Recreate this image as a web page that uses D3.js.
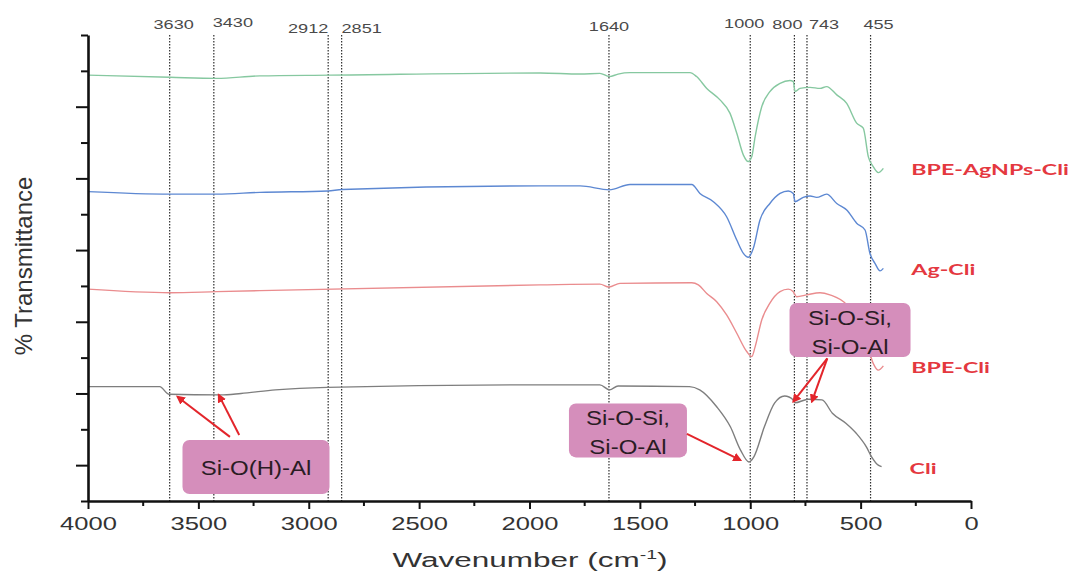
<!DOCTYPE html>
<html>
<head>
<meta charset="utf-8">
<script src="https://cdn.jsdelivr.net/npm/d3@7"></script>
<style>
  body { margin: 0; background: #fff; }
  text { font-family: "Liberation Sans", Arial, sans-serif; }
</style>
</head>
<body>
<svg id="chart" width="1073" height="573"></svg>
<script>
// spectra (wavenumber in cm-1, offset transmittance)
var seriesNames = ['BPE-AgNPs-Cli', 'Ag-Cli', 'BPE-Cli', 'Cli'];

var bpeAgWn = [4000,3629,3417,3221,2904,1952,1771,1681,1638,1599,1545,1273,1243,1197,1137,1092,1061,1031,1009,993,978,948,911,865,820,805,797,775,729,684,654,608,563,518,488,465,443,420,397];
var bpeAgT  = [118.8,118.2,117.9,118.6,118.8,119.4,119.1,119.3,118.4,119.1,119.5,119.5,118.4,115.1,111.9,108.2,102.6,96.5,94.7,96.1,101.6,110.0,114.2,116.5,117.3,117.0,114.2,115.1,115.4,115.1,115.6,113.3,110.9,105.4,104.0,96.0,93.3,91.6,92.8];

var agWn = [4000,3629,3417,3221,2913,2849,1952,1771,1638,1545,1265,1228,1167,1107,1061,1031,1009,986,956,911,865,828,805,797,760,729,699,654,608,563,518,480,458,435,412,397];
var agT  = [86.3,85.6,85.6,86.1,86.5,86.9,87.9,87.9,86.8,88.3,88.3,85.8,83.5,79.3,72.8,69.1,68.0,70.5,78.4,83.0,85.8,86.5,85.8,83.5,84.7,85.1,84.7,85.6,83.0,81.2,77.5,75.6,69.1,66.3,64.2,64.9];

var bpeWn = [4000,3629,3417,3221,1952,1681,1640,1590,1265,1235,1197,1152,1107,1061,1016,993,978,948,911,865,828,805,790,744,684,639,563,518,476,443,420,397];
var bpeT  = [59.1,58.1,58.4,58.7,60.3,60.5,59.7,60.7,60.9,60.3,57.9,55.6,51.9,46.8,41.7,40.3,43.0,50.5,55.2,58.4,59.1,58.4,57.0,57.5,58.1,57.5,54.7,50.5,44.9,38.4,36.5,37.7];

var cliWn = [4000,3675,3634,3400,3307,3151,2917,1952,1681,1637,1599,1275,1229,1152,1090,1044,1006,983,936,890,844,805,798,736,675,628,567,520,474,451,420,405];
var cliT  = [31.9,31.9,29.8,29.6,30.0,31.0,31.7,32.4,32.4,31.0,32.1,31.9,31.0,26.3,20.7,14.2,10.9,12.4,20.7,27.3,29.3,28.2,27.4,28.4,28.2,24.5,21.7,18.9,15.1,12.4,10.0,9.6];

var peakWn = [3630, 3430, 2912, 2851, 1640, 1000, 800, 743, 455];
var xTicks = [4000, 3500, 3000, 2500, 2000, 1500, 1000, 500, 0];
var xMinor = [3750, 3250, 2750, 2250, 1750, 1250, 750, 250];
var yTicks = d3.range(0, 131, 10);

// band assignments: box centre, arrow tails and arrow heads (wavenumber, T)
var annoText = [['Si-O(H)-Al'], ['Si-O-Si,', 'Si-O-Al'], ['Si-O-Si,', 'Si-O-Al']];
var annoAt   = [[3239, 9.5], [1554, 19.7], [548, 47.7]];
var arrowFrom = [[3357, 17.9], [3315, 18.4], [1287, 18.7], [651, 39.8], [651, 39.8]];
var arrowTo   = [[3595, 29.1], [3408, 29.6], [1044, 11.4], [805, 27.7], [721, 27.7]];

(function(){
    var svg = d3.select('#chart');
    var x = d3.scaleLinear().domain([4000, 0]).range([88, 971]);
    var y = d3.scaleLinear().domain([0, 130]).range([501, 35]);

    var series = [
        {name: seriesNames[0], wn: bpeAgWn, t: bpeAgT, color: '#86c8a0'},
        {name: seriesNames[1], wn: agWn,    t: agT,    color: '#5d88d2'},
        {name: seriesNames[2], wn: bpeWn,   t: bpeT,   color: '#ea8c8e'},
        {name: seriesNames[3], wn: cliWn,   t: cliT,   color: '#7e7e7e'}
    ];

    var defs = svg.append('defs');
    defs.append('marker')
        .attr('id', 'arrowHead')
        .attr('viewBox', '0 0 10 10')
        .attr('refX', 8).attr('refY', 5)
        .attr('markerWidth', 4.5).attr('markerHeight', 4.5)
        .attr('orient', 'auto')
        .append('path')
        .attr('d', 'M0,0L10,5L0,10z')
        .attr('fill', '#e3252b');

    // dotted peak markers -----------------
    svg.append('g').selectAll('line')
        .data(peakWn).enter().append('line')
        .attr('x1', function(d){ return x(d) })
        .attr('x2', function(d){ return x(d) })
        .attr('y1', y(130)).attr('y2', y(0))
        .style('stroke', '#2e2e2e')
        .style('stroke-width', 1.2)
        .style('stroke-dasharray', '1.5,1.5');

    // labels are not centred on their lines in the figure
    var peakDx = [4, 19, -20, 20, 0, -6, -7, 17, 8];
    var peakY  = [29, 27, 33, 33, 31, 28, 29, 29, 29];
    svg.append('g').selectAll('text')
        .data(peakWn).enter().append('text')
        .attr('transform', function(d, i){
            return 'translate(' + (x(d) + peakDx[i]) + ',' + peakY[i] + ') scale(1.45,1)';
        })
        .attr('text-anchor', 'middle')
        .style('font-size', '12.5px')
        .style('fill', '#4a4a4a')
        .text(function(d){ return d });

    // spectra -----------------
    var line = d3.line()
        .curve(d3.curveMonotoneX)
        .x(function(d){ return x(d[0]) })
        .y(function(d){ return y(d[1]) });

    series.forEach(function(s){
        var pts = s.wn.map(function(w, i){ return [w, s.t[i]] });
        svg.append('path')
            .datum(pts)
            .attr('d', line)
            .style('fill', 'none')
            .style('stroke', s.color)
            .style('stroke-width', 1.4);

        var last = pts[pts.length - 1];
        svg.append('text')
            .attr('transform', 'translate(' + (x(last[0]) + 28) + ',' + (y(last[1]) + 7) + ') scale(1.45,1)')
            .style('font-family', 'Lato, "Open Sans", sans-serif')
            .style('font-weight', 'bold')
            .style('font-size', '16px')
            .style('fill', '#e4383f')
            .text(s.name);
    });

    // axes -----------------
    var xAxis = svg.append('g')
        .attr('transform', 'translate(0,' + y(0) + ')')
        .call(d3.axisBottom(x).tickValues(xTicks).tickFormat(d3.format('d'))
            .tickSize(8).tickPadding(8).tickSizeOuter(0));
    xAxis.selectAll('text')
        .attr('transform', 'scale(1.42,1)')
        .style('font-size', '18px')
        .style('fill', '#333');
    xAxis.selectAll('.minor')
        .data(xMinor).enter().append('line')
        .attr('class', 'minor')
        .attr('x1', function(d){ return x(d) })
        .attr('x2', function(d){ return x(d) })
        .attr('y1', 0).attr('y2', 5);

    var yAxis = svg.append('g')
        .attr('transform', 'translate(' + x(4000) + ',0)')
        .call(d3.axisLeft(y).tickValues(yTicks).tickFormat('').tickSizeOuter(0));
    yAxis.selectAll('.tick line')
        .attr('x2', function(d){ return ((d / 10) % 2 === 1 && d !== 130) ? -12 : -7 });

    svg.selectAll('.domain').style('stroke', '#111').style('stroke-width', 2.6);
    svg.selectAll('.tick line, .minor').style('stroke', '#111').style('stroke-width', 2);

    svg.append('text')
        .attr('transform', 'translate(530,567) scale(1.5,1)')
        .attr('text-anchor', 'middle')
        .style('font-size', '21px')
        .style('fill', '#333')
        .call(function(t){
            t.append('tspan').text('Wavenumber (cm');
            t.append('tspan').attr('dy', -8).style('font-size', '13px').text('-1');
            t.append('tspan').attr('dy', 8).text(')');
        });

    svg.append('text')
        .attr('transform', 'translate(32,266) rotate(-90)')
        .attr('text-anchor', 'middle')
        .style('font-size', '24px')
        .style('fill', '#333')
        .text('% Transmittance');

    // band boxes + arrows -----------------
    var boxW = [147, 118, 121], boxH = 54;
    var anno = svg.append('g').selectAll('g')
        .data(annoText).enter().append('g')
        .attr('transform', function(d, i){
            return 'translate(' + x(annoAt[i][0]) + ',' + y(annoAt[i][1]) + ')';
        });
    anno.append('rect')
        .attr('x', function(d, i){ return -boxW[i] / 2 })
        .attr('y', -boxH / 2)
        .attr('width', function(d, i){ return boxW[i] })
        .attr('height', boxH)
        .attr('rx', 7)
        .style('fill', '#d58ebb');
    anno.each(function(lines){
        var g = d3.select(this);
        var base = lines.length === 1 ? [8] : [-5, 23.5];
        lines.forEach(function(l, j){
            g.append('text')
                .attr('transform', 'translate(0,' + base[j] + ') scale(1.2,1)')
                .attr('text-anchor', 'middle')
                .style('font-size', '20px')
                .style('fill', '#2a1c24')
                .text(l);
        });
    });

    svg.append('g').selectAll('line')
        .data(arrowFrom).enter().append('line')
        .attr('x1', function(d){ return x(d[0]) })
        .attr('y1', function(d){ return y(d[1]) })
        .attr('x2', function(d, i){ return x(arrowTo[i][0]) })
        .attr('y2', function(d, i){ return y(arrowTo[i][1]) })
        .style('stroke', '#e3252b')
        .style('stroke-width', 2)
        .attr('marker-end', 'url(#arrowHead)');
})();
</script>
</body>
</html>
